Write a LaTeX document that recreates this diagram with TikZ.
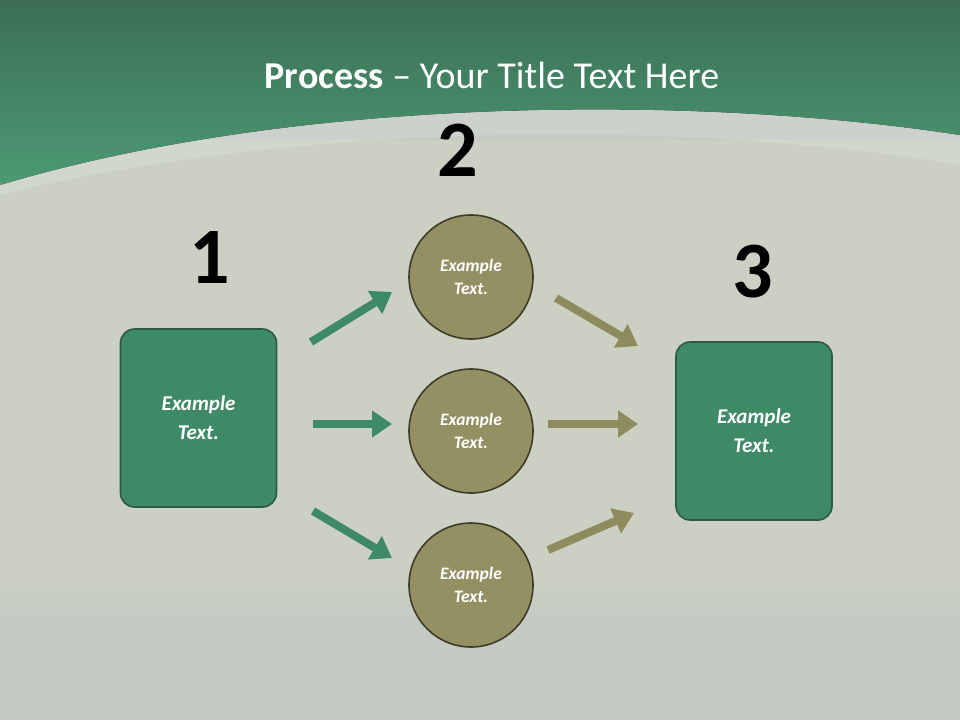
\documentclass[tikz,border=0pt]{standalone}
\usepackage{fontspec}
\setmainfont{Carlito}
\usetikzlibrary{arrows.meta}
\definecolor{hdark}{HTML}{3B6E55}
\definecolor{hlight}{HTML}{4C9A72}
\definecolor{bg}{HTML}{C5CAC3}
\definecolor{boxg}{HTML}{3F8A66}
\definecolor{boxb}{HTML}{2C5A44}
\definecolor{olive}{HTML}{958F64}
\definecolor{oliveb}{HTML}{3E3D29}
\definecolor{arrowo}{HTML}{8E8C5E}
\definecolor{cloud}{HTML}{CBD0C3}
\tikzset{
 sq/.style={draw=boxb,line width=1.6pt,fill=boxg,rounded corners=14pt,minimum width=156pt,minimum height=178pt,text=white,font=\bfseries\itshape\fontsize{21}{29}\selectfont,align=center},
 circ/.style={circle,draw=oliveb,line width=1.6pt,fill=olive,minimum size=124pt,text=white,font=\bfseries\itshape\fontsize{17.5}{23}\selectfont,align=center},
 garr/.style={line width=8pt,draw=boxg,-{Triangle[length=20pt,width=26pt]}},
 oarr/.style={line width=8pt,draw=arrowo,-{Triangle[length=20pt,width=26pt]}},
 num/.style={font=\bfseries\fontsize{80}{80}\selectfont,text=black},
}
\begin{document}
\begin{tikzpicture}[x=1pt,y=-1pt]
\useasboundingbox (0,0) rectangle (960,720);
\fill[bg] (0,0) rectangle (960,720);
\fill[cloud] (0,140) rectangle (960,580);
\fill[top color=cloud,bottom color=bg] (0,580) rectangle (960,620);
% header
\fill[top color=hdark,bottom color=hlight] (0,0) -- (960,0) -- (960,135) .. controls (700,95) and (300,95) .. (0,185) -- cycle;
\fill[white,opacity=0.15] (0,185) .. controls (300,95) and (700,95) .. (960,135) -- (960,165) .. controls (700,120) and (300,120) .. (0,195) -- cycle;
\node[text=white,font=\fontsize{38}{40}\selectfont] (title) at (492,75) {\textbf{Process} -- Your Title Text Here};
% shapes
\node[sq] (b1) at (198.5,418) {Example\\Text.};
\node[sq] (b3) at (754,431) {Example\\Text.};
\node[circ] (c1) at (471,277) {Example\\Text.};
\node[circ] (c2) at (471,431) {Example\\Text.};
\node[circ] (c3) at (471,585) {Example\\Text.};
\node[num] (n1) at (210,258) {1};
\node[num] (n2) at (458,150) {2};
\node[num] (n3) at (753,272) {3};
% arrows
\coordinate (a1s) at (311,342); \coordinate (a1e) at (392,292);
\coordinate (a2s) at (313,424); \coordinate (a2e) at (392,424);
\coordinate (a3s) at (313,511); \coordinate (a3e) at (392,558);
\coordinate (o1s) at (556,298); \coordinate (o1e) at (638,346);
\coordinate (o2s) at (548,424); \coordinate (o2e) at (638,424);
\coordinate (o3s) at (548,550); \coordinate (o3e) at (634,513);
\draw[garr] (a1s) -- (a1e);
\draw[garr] (a2s) -- (a2e);
\draw[garr] (a3s) -- (a3e);
\draw[oarr] (o1s) -- (o1e);
\draw[oarr] (o2s) -- (o2e);
\draw[oarr] (o3s) -- (o3e);
\end{tikzpicture}
\end{document}
